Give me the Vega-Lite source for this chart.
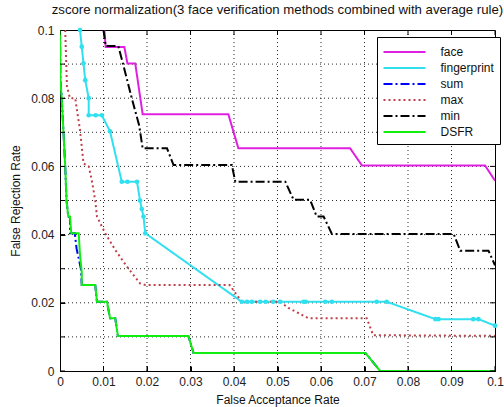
{
  "$schema": "https://vega.github.io/schema/vega-lite/v6.json",
  "width": 435,
  "height": 341,
  "autosize": "none",
  "padding": {"left": 60, "top": 30, "right": 9, "bottom": 36},
  "background": "white",
  "title": {"text": "zscore normalization(3 face verification methods combined with average rule)", "font": "Liberation Sans", "fontSize": 13.2, "fontWeight": "normal", "color": "#111", "offset": 7, "anchor": "middle"},
  "config": {
    "view": {"stroke": "black", "strokeWidth": 1},
    "axis": {"labelFont": "Liberation Sans", "titleFont": "Liberation Sans", "labelFontSize": 12, "titleFontSize": 12, "titleFontWeight": "normal", "labelColor": "#222", "titleColor": "#111", "domainColor": "black", "tickColor": "black", "tickSize": -5, "grid": false, "labelOverlap": false},
    "legend": {"labelFont": "Liberation Sans", "labelFontSize": 12, "labelColor": "#111"}
  },
  "datasets": {
    "grid": [
      {"k":"v1","x":0.01,"y":0},{"k":"v1","x":0.01,"y":0.1},
      {"k":"v2","x":0.02,"y":0},{"k":"v2","x":0.02,"y":0.1},
      {"k":"v3","x":0.03,"y":0},{"k":"v3","x":0.03,"y":0.1},
      {"k":"v4","x":0.04,"y":0},{"k":"v4","x":0.04,"y":0.1},
      {"k":"v5","x":0.05,"y":0},{"k":"v5","x":0.05,"y":0.1},
      {"k":"v6","x":0.06,"y":0},{"k":"v6","x":0.06,"y":0.1},
      {"k":"v7","x":0.07,"y":0},{"k":"v7","x":0.07,"y":0.1},
      {"k":"v8","x":0.08,"y":0},{"k":"v8","x":0.08,"y":0.1},
      {"k":"v9","x":0.09,"y":0},{"k":"v9","x":0.09,"y":0.1},
      {"k":"h1","x":0,"y":0.01},{"k":"h1","x":0.1,"y":0.01},
      {"k":"h2","x":0,"y":0.02},{"k":"h2","x":0.1,"y":0.02},
      {"k":"h3","x":0,"y":0.03},{"k":"h3","x":0.1,"y":0.03},
      {"k":"h4","x":0,"y":0.04},{"k":"h4","x":0.1,"y":0.04},
      {"k":"h5","x":0,"y":0.05},{"k":"h5","x":0.1,"y":0.05},
      {"k":"h6","x":0,"y":0.06},{"k":"h6","x":0.1,"y":0.06},
      {"k":"h7","x":0,"y":0.07},{"k":"h7","x":0.1,"y":0.07},
      {"k":"h8","x":0,"y":0.08},{"k":"h8","x":0.1,"y":0.08},
      {"k":"h9","x":0,"y":0.09},{"k":"h9","x":0.1,"y":0.09}
    ],
    "ticks": [{"t":0.0},{"t":0.01},{"t":0.02},{"t":0.03},{"t":0.04},{"t":0.05},{"t":0.06},{"t":0.07},{"t":0.08},{"t":0.09},{"t":0.1}]
  },
  "data": {"values": [
    {"s":"face","x":0.0102,"y":0.1},{"s":"face","x":0.0105,"y":0.095},{"s":"face","x":0.0148,"y":0.095},{"s":"face","x":0.0155,"y":0.0902},{"s":"face","x":0.0173,"y":0.0902},{"s":"face","x":0.019,"y":0.0753},{"s":"face","x":0.0387,"y":0.0753},{"s":"face","x":0.041,"y":0.0653},{"s":"face","x":0.0667,"y":0.0653},{"s":"face","x":0.0694,"y":0.0603},{"s":"face","x":0.0977,"y":0.0603},{"s":"face","x":0.1,"y":0.0558},
    {"s":"fingerprint","x":0.0046,"y":0.1},{"s":"fingerprint","x":0.005,"y":0.0951},{"s":"fingerprint","x":0.0054,"y":0.0902},{"s":"fingerprint","x":0.0058,"y":0.0853},{"s":"fingerprint","x":0.0066,"y":0.08},{"s":"fingerprint","x":0.0066,"y":0.075},{"s":"fingerprint","x":0.0082,"y":0.075},{"s":"fingerprint","x":0.0096,"y":0.075},{"s":"fingerprint","x":0.0115,"y":0.0703},{"s":"fingerprint","x":0.0142,"y":0.0555},{"s":"fingerprint","x":0.0155,"y":0.0555},{"s":"fingerprint","x":0.0177,"y":0.0555},{"s":"fingerprint","x":0.0184,"y":0.05},{"s":"fingerprint","x":0.0188,"y":0.0475},{"s":"fingerprint","x":0.0192,"y":0.0453},{"s":"fingerprint","x":0.0196,"y":0.0404},{"s":"fingerprint","x":0.0418,"y":0.0203},{"s":"fingerprint","x":0.043,"y":0.0203},{"s":"fingerprint","x":0.0441,"y":0.0203},{"s":"fingerprint","x":0.046,"y":0.0203},{"s":"fingerprint","x":0.0473,"y":0.0203},{"s":"fingerprint","x":0.049,"y":0.0203},{"s":"fingerprint","x":0.0506,"y":0.0203},{"s":"fingerprint","x":0.056,"y":0.0203},{"s":"fingerprint","x":0.0565,"y":0.0203},{"s":"fingerprint","x":0.061,"y":0.0203},{"s":"fingerprint","x":0.0625,"y":0.0203},{"s":"fingerprint","x":0.0728,"y":0.0203},{"s":"fingerprint","x":0.0751,"y":0.0203},{"s":"fingerprint","x":0.0863,"y":0.0152},{"s":"fingerprint","x":0.087,"y":0.0152},{"s":"fingerprint","x":0.095,"y":0.0152},{"s":"fingerprint","x":0.0962,"y":0.0152},{"s":"fingerprint","x":0.1,"y":0.0133},
    {"s":"sum","x":0.0,"y":0.1},{"s":"sum","x":0.0001,"y":0.085},{"s":"sum","x":0.0004,"y":0.08},{"s":"sum","x":0.0008,"y":0.07},{"s":"sum","x":0.0012,"y":0.06},{"s":"sum","x":0.0015,"y":0.05},{"s":"sum","x":0.0019,"y":0.0453},{"s":"sum","x":0.0023,"y":0.045},{"s":"sum","x":0.0023,"y":0.0404},{"s":"sum","x":0.0034,"y":0.0404},{"s":"sum","x":0.0038,"y":0.036},{"s":"sum","x":0.0048,"y":0.03},{"s":"sum","x":0.005,"y":0.0252},{"s":"sum","x":0.0081,"y":0.0252},{"s":"sum","x":0.0085,"y":0.0203},{"s":"sum","x":0.0108,"y":0.0203},{"s":"sum","x":0.0115,"y":0.0155},{"s":"sum","x":0.0127,"y":0.0155},{"s":"sum","x":0.0133,"y":0.0103},{"s":"sum","x":0.0295,"y":0.0103},{"s":"sum","x":0.0307,"y":0.0053},{"s":"sum","x":0.0702,"y":0.0053},{"s":"sum","x":0.0736,"y":0.0},{"s":"sum","x":0.1,"y":0.0},
    {"s":"max","x":0.0012,"y":0.1},{"s":"max","x":0.0016,"y":0.0834},{"s":"max","x":0.0023,"y":0.08},{"s":"max","x":0.0035,"y":0.08},{"s":"max","x":0.0039,"y":0.0765},{"s":"max","x":0.0046,"y":0.0707},{"s":"max","x":0.0054,"y":0.0609},{"s":"max","x":0.0066,"y":0.06},{"s":"max","x":0.0073,"y":0.056},{"s":"max","x":0.0081,"y":0.05},{"s":"max","x":0.0085,"y":0.0453},{"s":"max","x":0.0104,"y":0.0404},{"s":"max","x":0.0127,"y":0.0355},{"s":"max","x":0.0154,"y":0.0306},{"s":"max","x":0.0184,"y":0.0257},{"s":"max","x":0.0196,"y":0.0252},{"s":"max","x":0.039,"y":0.0252},{"s":"max","x":0.0418,"y":0.0203},{"s":"max","x":0.0506,"y":0.0203},{"s":"max","x":0.0525,"y":0.0185},{"s":"max","x":0.0571,"y":0.0155},{"s":"max","x":0.0705,"y":0.0155},{"s":"max","x":0.072,"y":0.0105},{"s":"max","x":0.1,"y":0.0103},
    {"s":"min","x":0.01,"y":0.1},{"s":"min","x":0.0105,"y":0.0953},{"s":"min","x":0.0134,"y":0.0953},{"s":"min","x":0.0145,"y":0.09},{"s":"min","x":0.0165,"y":0.08},{"s":"min","x":0.0182,"y":0.072},{"s":"min","x":0.019,"y":0.0653},{"s":"min","x":0.0246,"y":0.0653},{"s":"min","x":0.0261,"y":0.0604},{"s":"min","x":0.0395,"y":0.0604},{"s":"min","x":0.0403,"y":0.0555},{"s":"min","x":0.0518,"y":0.0555},{"s":"min","x":0.0537,"y":0.0502},{"s":"min","x":0.0575,"y":0.0502},{"s":"min","x":0.059,"y":0.0453},{"s":"min","x":0.0606,"y":0.0453},{"s":"min","x":0.0625,"y":0.0402},{"s":"min","x":0.0905,"y":0.0402},{"s":"min","x":0.092,"y":0.0353},{"s":"min","x":0.0985,"y":0.0353},{"s":"min","x":0.1,"y":0.031},
    {"s":"DSFR","x":0.0,"y":0.1},{"s":"DSFR","x":0.0001,"y":0.085},{"s":"DSFR","x":0.0004,"y":0.08},{"s":"DSFR","x":0.0008,"y":0.07},{"s":"DSFR","x":0.0012,"y":0.06},{"s":"DSFR","x":0.0015,"y":0.05},{"s":"DSFR","x":0.0019,"y":0.0453},{"s":"DSFR","x":0.0023,"y":0.0453},{"s":"DSFR","x":0.0026,"y":0.0404},{"s":"DSFR","x":0.0043,"y":0.0404},{"s":"DSFR","x":0.0046,"y":0.034},{"s":"DSFR","x":0.005,"y":0.029},{"s":"DSFR","x":0.005,"y":0.0252},{"s":"DSFR","x":0.0081,"y":0.0252},{"s":"DSFR","x":0.0085,"y":0.0203},{"s":"DSFR","x":0.0108,"y":0.0203},{"s":"DSFR","x":0.0115,"y":0.0155},{"s":"DSFR","x":0.0127,"y":0.0155},{"s":"DSFR","x":0.0133,"y":0.0103},{"s":"DSFR","x":0.0295,"y":0.0103},{"s":"DSFR","x":0.0307,"y":0.0053},{"s":"DSFR","x":0.0702,"y":0.0053},{"s":"DSFR","x":0.0736,"y":0.0},{"s":"DSFR","x":0.1,"y":0.0}
  ]},
  "layer": [
    {
      "data": {"name": "grid"},
      "mark": {"type": "line", "color": "#111", "strokeDash": [1, 3], "strokeWidth": 1, "opacity": 0.9},
      "encoding": {
        "x": {"field": "x", "type": "quantitative", "scale": {"domain": [0, 0.1], "nice": false, "zero": false}, "axis": {"title": "False Acceptance Rate", "values": [0,0.01,0.02,0.03,0.04,0.05,0.06,0.07,0.08,0.09,0.1], "labelExpr": "datum.value == 0 ? '0' : format(datum.value, '.2~f')", "labelPadding": 10, "titlePadding": 7, "labelFlush": false, "labelOverlap": false}},
        "y": {"field": "y", "type": "quantitative", "scale": {"domain": [0, 0.1], "nice": false, "zero": false}, "axis": {"title": "False Rejection Rate", "values": [0,0.01,0.02,0.03,0.04,0.05,0.06,0.07,0.08,0.09,0.1], "labelExpr": "datum.value == 0 ? '0' : format(datum.value, '.2~f')", "labelPadding": 11, "titlePadding": 8, "labelFlush": false, "labelOverlap": false}},
        "detail": {"field": "k", "type": "nominal"}
      }
    },
    {
      "transform": [{"filter": "datum.s != 'DSFR'"}],
      "mark": {"type": "line", "clip": true},
      "encoding": {
        "x": {"field": "x", "type": "quantitative"},
        "y": {"field": "y", "type": "quantitative"},
        "color": {"field": "s", "type": "nominal", "title": null, "scale": {"domain": ["face","fingerprint","sum","max","min","DSFR"], "range": ["#e020e0","#30e0f0","#0000ff","#c0404a","#000000","#10ee10"]}, "legend": {"orient": "none", "legendX": 317, "legendY": 7, "symbolType": "M-2.625,0H2.625", "symbolSize": 256, "symbolStrokeWidth": 2, "strokeColor": "black", "fillColor": "white", "padding": 6, "rowPadding": 1, "labelOffset": 27, "symbolOffset": 12.5}},
        "strokeDash": {"field": "s", "type": "nominal", "title": null, "scale": {"domain": ["face","fingerprint","sum","max","min","DSFR"], "range": [[1,0],[1,0],[9,3,2,3],[2,3],[9,3,2,3],[1,0]]}},
        "strokeWidth": {"field": "s", "type": "nominal", "legend": null, "scale": {"domain": ["face","fingerprint","sum","max","min","DSFR"], "range": [2,2,2,1.5,1.5,2]}}
      }
    },
    {
      "transform": [{"filter": "datum.s == 'fingerprint'"}],
      "mark": {"type": "point", "filled": true, "size": 22, "color": "#30e0f0", "opacity": 1},
      "encoding": {
        "x": {"field": "x", "type": "quantitative"},
        "y": {"field": "y", "type": "quantitative"}
      }
    },
    {
      "transform": [{"filter": "datum.s == 'DSFR'"}],
      "mark": {"type": "line", "clip": true, "strokeWidth": 2},
      "encoding": {
        "x": {"field": "x", "type": "quantitative"},
        "y": {"field": "y", "type": "quantitative"},
        "color": {"field": "s", "type": "nominal"},
        "strokeDash": {"field": "s", "type": "nominal"}
      }
    },
    {
      "data": {"name": "ticks"},
      "mark": {"type": "tick", "orient": "vertical", "size": 10, "thickness": 1, "color": "black", "opacity": 1, "clip": true},
      "encoding": {"x": {"field": "t", "type": "quantitative"}, "y": {"datum": 0, "type": "quantitative"}}
    },
    {
      "data": {"name": "ticks"},
      "mark": {"type": "tick", "orient": "vertical", "size": 10, "thickness": 1, "color": "black", "opacity": 1, "clip": true},
      "encoding": {"x": {"field": "t", "type": "quantitative"}, "y": {"datum": 0.1, "type": "quantitative"}}
    },
    {
      "data": {"name": "ticks"},
      "mark": {"type": "tick", "orient": "horizontal", "size": 10, "thickness": 1, "color": "black", "opacity": 1, "clip": true},
      "encoding": {"y": {"field": "t", "type": "quantitative"}, "x": {"datum": 0, "type": "quantitative"}}
    },
    {
      "data": {"name": "ticks"},
      "mark": {"type": "tick", "orient": "horizontal", "size": 10, "thickness": 1, "color": "black", "opacity": 1, "clip": true},
      "encoding": {"y": {"field": "t", "type": "quantitative"}, "x": {"datum": 0.1, "type": "quantitative"}}
    }
  ]
}
